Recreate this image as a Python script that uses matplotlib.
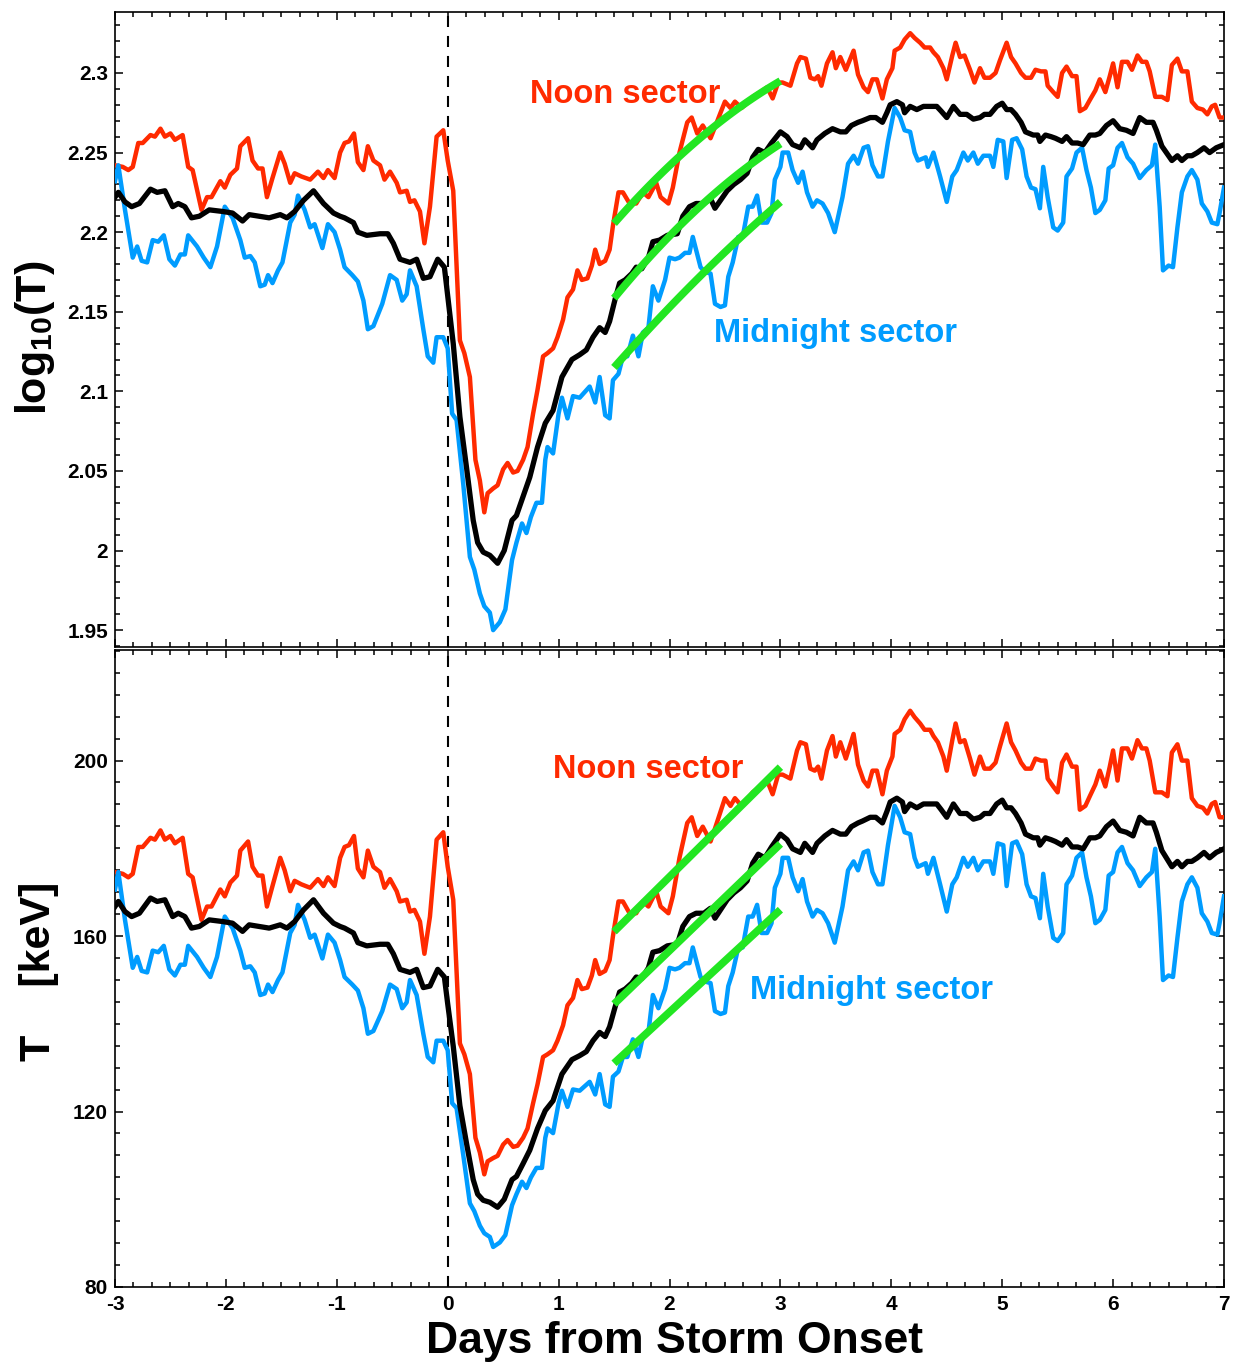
import matplotlib
matplotlib.use('Agg')
import matplotlib.pyplot as plt
from matplotlib.ticker import MultipleLocator, FuncFormatter
import numpy as np

# Superposed-epoch temperature, log10(T [keV]) vs days from storm onset
noon_days = [-3.00, -2.93, -2.88, -2.84, -2.79, -2.75, -2.68, -2.64, -2.59, -2.55,
             -2.50, -2.46, -2.39, -2.34, -2.30, -2.22, -2.17, -2.13, -2.05, -2.01,
             -1.96, -1.90, -1.87, -1.80, -1.76, -1.71, -1.67, -1.63, -1.58, -1.51,
             -1.47, -1.42, -1.38, -1.32, -1.24, -1.17, -1.12, -1.08, -1.02, -0.97,
             -0.93, -0.89, -0.845, -0.81, -0.76, -0.72, -0.67, -0.61, -0.57, -0.52,
             -0.46, -0.43, -0.37, -0.34, -0.30, -0.25, -0.21, -0.16, -0.10, -0.04,
             0.00, 0.05, 0.11, 0.15, 0.20, 0.25, 0.29, 0.33, 0.36, 0.41,
             0.45, 0.50, 0.54, 0.59, 0.63, 0.68, 0.72, 0.77, 0.81, 0.86,
             0.90, 0.95, 0.99, 1.04, 1.08, 1.13, 1.17, 1.21, 1.26, 1.30,
             1.33, 1.37, 1.42, 1.46, 1.49, 1.54, 1.58, 1.64, 1.70, 1.76,
             1.81, 1.88, 1.92, 1.99, 2.03, 2.09, 2.16, 2.20, 2.25, 2.30,
             2.37, 2.41, 2.46, 2.50, 2.55, 2.59, 2.65, 2.70, 2.75, 2.82,
             2.88, 2.93, 2.98, 3.02, 3.09, 3.15, 3.18, 3.23, 3.27, 3.31,
             3.34, 3.37, 3.42, 3.47, 3.50, 3.54, 3.59, 3.66, 3.70, 3.75,
             3.79, 3.83, 3.87, 3.92, 3.96, 4.01, 4.03, 4.08, 4.12, 4.17,
             4.21, 4.26, 4.30, 4.35, 4.38, 4.42, 4.47, 4.50, 4.55, 4.58,
             4.62, 4.66, 4.71, 4.75, 4.80, 4.84, 4.89, 4.94, 4.98, 5.04,
             5.08, 5.12, 5.17, 5.21, 5.26, 5.30, 5.35, 5.39, 5.41, 5.46,
             5.50, 5.54, 5.58, 5.63, 5.67, 5.70, 5.75, 5.79, 5.84, 5.88,
             5.93, 5.97, 6.00, 6.04, 6.08, 6.13, 6.17, 6.22, 6.26, 6.30,
             6.33, 6.38, 6.44, 6.49, 6.53, 6.58, 6.62, 6.67, 6.71, 6.76,
             6.81, 6.85, 6.89, 6.92, 6.96, 7.00]
noon_logT = [2.242, 2.241, 2.239, 2.241, 2.256, 2.256, 2.261, 2.260, 2.265, 2.260,
             2.262, 2.258, 2.261, 2.241, 2.239, 2.214, 2.222, 2.222, 2.232, 2.228,
             2.236, 2.240, 2.254, 2.259, 2.245, 2.240, 2.240, 2.222, 2.234, 2.250,
             2.243, 2.231, 2.237, 2.235, 2.233, 2.238, 2.234, 2.239, 2.234, 2.250,
             2.256, 2.257, 2.262, 2.244, 2.239, 2.254, 2.245, 2.242, 2.233, 2.238,
             2.231, 2.225, 2.226, 2.219, 2.220, 2.213, 2.193, 2.216, 2.260, 2.264,
             2.245, 2.226, 2.132, 2.124, 2.109, 2.057, 2.044, 2.024, 2.036, 2.039,
             2.041, 2.051, 2.055, 2.049, 2.050, 2.057, 2.065, 2.086, 2.101, 2.122,
             2.124, 2.127, 2.134, 2.145, 2.159, 2.164, 2.176, 2.170, 2.171, 2.179,
             2.189, 2.180, 2.182, 2.189, 2.204, 2.225, 2.225, 2.218, 2.218, 2.225,
             2.222, 2.231, 2.222, 2.218, 2.228, 2.250, 2.269, 2.272, 2.262, 2.267,
             2.259, 2.266, 2.275, 2.282, 2.278, 2.282, 2.278, 2.281, 2.285, 2.288,
             2.291, 2.284, 2.294, 2.294, 2.292, 2.306, 2.310, 2.309, 2.297, 2.296,
             2.298, 2.292, 2.306, 2.313, 2.303, 2.310, 2.302, 2.314, 2.299, 2.291,
             2.288, 2.296, 2.296, 2.284, 2.296, 2.303, 2.314, 2.316, 2.321, 2.325,
             2.322, 2.319, 2.316, 2.316, 2.313, 2.310, 2.303, 2.296, 2.311, 2.319,
             2.310, 2.311, 2.302, 2.294, 2.303, 2.297, 2.297, 2.300, 2.308, 2.319,
             2.310, 2.306, 2.300, 2.297, 2.297, 2.302, 2.301, 2.301, 2.292, 2.288,
             2.285, 2.300, 2.304, 2.298, 2.298, 2.276, 2.278, 2.283, 2.289, 2.296,
             2.288, 2.298, 2.306, 2.291, 2.307, 2.307, 2.302, 2.311, 2.307, 2.307,
             2.301, 2.285, 2.285, 2.283, 2.305, 2.309, 2.301, 2.301, 2.282, 2.278,
             2.277, 2.274, 2.279, 2.280, 2.272, 2.272]

all_days = [-3.00, -2.97, -2.91, -2.85, -2.78, -2.68, -2.62, -2.55, -2.48, -2.43,
            -2.37, -2.31, -2.24, -2.15, -2.03, -1.94, -1.85, -1.79, -1.70, -1.61,
            -1.51, -1.45, -1.38, -1.30, -1.21, -1.12, -1.03, -0.97, -0.93, -0.85,
            -0.81, -0.73, -0.61, -0.54, -0.49, -0.43, -0.34, -0.28, -0.22, -0.16,
            -0.09, -0.03, 0.00, 0.05, 0.11, 0.17, 0.23, 0.27, 0.32, 0.38,
            0.45, 0.51, 0.58, 0.62, 0.68, 0.74, 0.81, 0.88, 0.95, 1.03,
            1.12, 1.19, 1.25, 1.31, 1.37, 1.42, 1.46, 1.51, 1.55, 1.60,
            1.66, 1.70, 1.75, 1.81, 1.85, 1.91, 1.98, 2.07, 2.12, 2.18,
            2.24, 2.31, 2.37, 2.41, 2.46, 2.52, 2.58, 2.64, 2.70, 2.75,
            2.80, 2.86, 2.92, 3.00, 3.06, 3.11, 3.18, 3.22, 3.29, 3.33,
            3.40, 3.47, 3.54, 3.59, 3.64, 3.70, 3.74, 3.81, 3.86, 3.92,
            3.96, 3.99, 4.05, 4.10, 4.12, 4.17, 4.23, 4.29, 4.35, 4.41,
            4.45, 4.50, 4.56, 4.62, 4.68, 4.74, 4.80, 4.84, 4.89, 4.95,
            5.00, 5.04, 5.08, 5.12, 5.17, 5.21, 5.28, 5.32, 5.34, 5.39,
            5.44, 5.48, 5.54, 5.58, 5.63, 5.68, 5.73, 5.79, 5.84, 5.88,
            5.94, 6.00, 6.06, 6.12, 6.18, 6.24, 6.30, 6.36, 6.39, 6.44,
            6.49, 6.53, 6.58, 6.62, 6.67, 6.71, 6.76, 6.82, 6.87, 6.93,
            7.00]
all_logT = [2.222, 2.225, 2.219, 2.216, 2.218, 2.227, 2.225, 2.226, 2.216, 2.218,
            2.216, 2.209, 2.210, 2.214, 2.213, 2.212, 2.207, 2.211, 2.210, 2.209,
            2.211, 2.209, 2.213, 2.220, 2.226, 2.218, 2.212, 2.210, 2.209, 2.206,
            2.200, 2.198, 2.199, 2.199, 2.193, 2.183, 2.181, 2.183, 2.171, 2.172,
            2.183, 2.178, 2.160, 2.130, 2.084, 2.052, 2.019, 2.005, 1.999, 1.997,
            1.992, 2.000, 2.019, 2.022, 2.034, 2.046, 2.065, 2.080, 2.088, 2.109,
            2.120, 2.123, 2.126, 2.134, 2.140, 2.137, 2.144, 2.158, 2.168, 2.170,
            2.174, 2.178, 2.177, 2.184, 2.194, 2.195, 2.198, 2.199, 2.210, 2.216,
            2.218, 2.218, 2.221, 2.215, 2.220, 2.226, 2.230, 2.233, 2.237, 2.247,
            2.252, 2.250, 2.256, 2.263, 2.260, 2.255, 2.253, 2.258, 2.253, 2.258,
            2.262, 2.265, 2.263, 2.263, 2.267, 2.269, 2.270, 2.272, 2.272, 2.269,
            2.275, 2.280, 2.282, 2.280, 2.275, 2.279, 2.277, 2.279, 2.279, 2.279,
            2.276, 2.272, 2.279, 2.274, 2.274, 2.271, 2.272, 2.274, 2.274, 2.279,
            2.281, 2.277, 2.277, 2.274, 2.269, 2.263, 2.261, 2.261, 2.257, 2.261,
            2.260, 2.259, 2.257, 2.260, 2.256, 2.256, 2.255, 2.261, 2.261, 2.262,
            2.267, 2.270, 2.265, 2.264, 2.262, 2.272, 2.269, 2.269, 2.264, 2.254,
            2.249, 2.245, 2.248, 2.245, 2.248, 2.248, 2.250, 2.253, 2.250, 2.253,
            2.255]

midnight_days = [-3.00, -2.97, -2.91, -2.84, -2.80, -2.76, -2.71, -2.66, -2.61, -2.56,
                 -2.51, -2.46, -2.41, -2.37, -2.34, -2.26, -2.20, -2.14, -2.08, -2.01,
                 -1.94, -1.87, -1.83, -1.78, -1.74, -1.69, -1.65, -1.62, -1.58, -1.53,
                 -1.49, -1.42, -1.38, -1.35, -1.29, -1.24, -1.20, -1.13, -1.08, -1.02,
                 -0.97, -0.93, -0.86, -0.81, -0.76, -0.72, -0.67, -0.59, -0.52, -0.46,
                 -0.41, -0.37, -0.34, -0.28, -0.22, -0.18, -0.13, -0.10, -0.04, 0.00,
                 0.04, 0.08, 0.14, 0.20, 0.24, 0.29, 0.33, 0.38, 0.41, 0.47,
                 0.52, 0.58, 0.62, 0.67, 0.71, 0.75, 0.80, 0.85, 0.88, 0.90,
                 0.95, 1.00, 1.03, 1.08, 1.13, 1.19, 1.28, 1.33, 1.37, 1.42,
                 1.46, 1.49, 1.54, 1.58, 1.62, 1.67, 1.72, 1.76, 1.81, 1.85,
                 1.90, 1.96, 2.00, 2.05, 2.09, 2.14, 2.18, 2.21, 2.28, 2.32,
                 2.37, 2.41, 2.46, 2.50, 2.53, 2.57, 2.62, 2.66, 2.71, 2.75,
                 2.79, 2.83, 2.88, 2.92, 2.95, 3.00, 3.02, 3.07, 3.11, 3.16,
                 3.20, 3.24, 3.29, 3.33, 3.38, 3.43, 3.49, 3.56, 3.61, 3.66,
                 3.70, 3.75, 3.79, 3.83, 3.88, 3.92, 3.97, 4.03, 4.08, 4.12,
                 4.17, 4.21, 4.24, 4.31, 4.33, 4.38, 4.44, 4.50, 4.55, 4.59,
                 4.65, 4.69, 4.74, 4.78, 4.83, 4.89, 4.92, 4.96, 5.01, 5.04,
                 5.09, 5.13, 5.18, 5.22, 5.26, 5.30, 5.34, 5.37, 5.41, 5.46,
                 5.50, 5.55, 5.58, 5.63, 5.67, 5.72, 5.76, 5.80, 5.84, 5.88,
                 5.93, 5.96, 6.00, 6.04, 6.08, 6.13, 6.18, 6.24, 6.30, 6.35,
                 6.38, 6.42, 6.45, 6.50, 6.54, 6.58, 6.62, 6.67, 6.71, 6.76,
                 6.80, 6.85, 6.89, 6.94, 6.96, 7.00]
midnight_logT = [2.232, 2.242, 2.214, 2.184, 2.191, 2.182, 2.181, 2.195, 2.194, 2.198,
                 2.183, 2.179, 2.186, 2.186, 2.198, 2.191, 2.184, 2.178, 2.191, 2.216,
                 2.209, 2.195, 2.184, 2.185, 2.181, 2.166, 2.167, 2.173, 2.168, 2.176,
                 2.181, 2.206, 2.211, 2.223, 2.214, 2.203, 2.205, 2.190, 2.205, 2.200,
                 2.189, 2.178, 2.173, 2.169, 2.157, 2.139, 2.141, 2.155, 2.173, 2.170,
                 2.157, 2.161, 2.176, 2.166, 2.139, 2.122, 2.118, 2.134, 2.134, 2.127,
                 2.086, 2.082, 2.042, 1.996, 1.988, 1.973, 1.965, 1.961, 1.950, 1.955,
                 1.963, 1.994, 2.005, 2.017, 2.011, 2.021, 2.030, 2.030, 2.057, 2.065,
                 2.061, 2.086, 2.096, 2.083, 2.097, 2.096, 2.103, 2.093, 2.109, 2.085,
                 2.083, 2.107, 2.111, 2.122, 2.122, 2.135, 2.122, 2.137, 2.140, 2.166,
                 2.157, 2.170, 2.184, 2.183, 2.184, 2.187, 2.187, 2.197, 2.178, 2.175,
                 2.174, 2.155, 2.153, 2.154, 2.172, 2.181, 2.197, 2.197, 2.216, 2.216,
                 2.223, 2.206, 2.206, 2.212, 2.233, 2.241, 2.250, 2.250, 2.239, 2.231,
                 2.238, 2.225, 2.216, 2.220, 2.218, 2.212, 2.200, 2.222, 2.243, 2.248,
                 2.243, 2.253, 2.254, 2.242, 2.235, 2.235, 2.257, 2.278, 2.272, 2.264,
                 2.263, 2.250, 2.245, 2.247, 2.241, 2.250, 2.235, 2.219, 2.235, 2.239,
                 2.250, 2.245, 2.250, 2.243, 2.248, 2.248, 2.241, 2.258, 2.257, 2.234,
                 2.258, 2.259, 2.252, 2.235, 2.228, 2.227, 2.215, 2.241, 2.222, 2.203,
                 2.201, 2.206, 2.235, 2.240, 2.250, 2.253, 2.239, 2.228, 2.212, 2.214,
                 2.220, 2.240, 2.242, 2.253, 2.256, 2.247, 2.243, 2.234, 2.239, 2.242,
                 2.255, 2.216, 2.176, 2.179, 2.178, 2.203, 2.225, 2.235, 2.239, 2.233,
                 2.218, 2.213, 2.206, 2.205, 2.212, 2.228]

# Recovery fits, day 1.5 to day 3: straight lines in keV ...
fit_days = [1.5, 3.0]
fit_noon_keV = [161.0, 198.5]
fit_all_keV = [144.5, 181.0]
fit_midnight_keV = [131.0, 166.0]
# ... and the log-panel fits, given at start, middle and end
fit_log_days = [1.5, 2.25, 3.0]
fit_noon_log = [2.2055, 2.2575, 2.2950]
fit_all_log = [2.1585, 2.2145, 2.2555]
fit_midnight_log = [2.1150, 2.1705, 2.2190]

RED = '#ff2a00'
BLUE = '#009cff'
GREEN = '#22e622'

plt.rcParams['font.family'] = ['Liberation Sans', 'DejaVu Sans']
plt.rcParams['font.weight'] = 'bold'
plt.rcParams['mathtext.default'] = 'regular'

W, H = 1235, 1363
fig = plt.figure(figsize=(W / 100, H / 100), dpi=100)

def px_axes(left, top, right, bottom):
  return fig.add_axes([left / W, 1 - bottom / H, (right - left) / W, (bottom - top) / H])

ax_log = px_axes(115, 12, 1224, 647)
ax_kev = px_axes(115, 650, 1224, 1287)

def draw_panel(ax, to_units):
  ax.plot(noon_days, to_units(np.array(noon_logT)), color=RED, lw=3.2, zorder=3)
  ax.plot(midnight_days, to_units(np.array(midnight_logT)), color=BLUE, lw=3.2, zorder=3)
  ax.plot(all_days, to_units(np.array(all_logT)), color='black', lw=3.8, zorder=4)
  ax.axvline(0, color='black', lw=1.5, ls=(0, (5.3, 4.3)), zorder=2)
  ax.set_xlim(-3, 7)
  ax.xaxis.set_major_locator(MultipleLocator(1))
  ax.xaxis.set_minor_locator(MultipleLocator(1 / 6))
  ax.tick_params(which='both', direction='in', top=True, right=True, width=1.1,
                 labelsize=15, pad=6)
  ax.tick_params(which='major', length=6)
  ax.tick_params(which='minor', length=3.5)
  for s in ax.spines.values():
    s.set_linewidth(1.2)

draw_panel(ax_log, lambda v: v)
draw_panel(ax_kev, lambda v: 10 ** v)

# Green fit curves on top of the data
t = np.linspace(fit_days[0], fit_days[1], 60)
for fit in (fit_noon_log, fit_all_log, fit_midnight_log):
  coef = np.polyfit(fit_log_days, fit, 2)
  ax_log.plot(t, np.polyval(coef, t), color=GREEN, lw=5.5, solid_capstyle='butt', zorder=5)
for fit in (fit_noon_keV, fit_all_keV, fit_midnight_keV):
  ax_kev.plot(fit_days, fit, color=GREEN, lw=5.5, solid_capstyle='butt', zorder=5)

ax_log.set_ylim(1.9394, 2.3383)
ax_log.yaxis.set_major_locator(MultipleLocator(0.05))
ax_log.yaxis.set_minor_locator(MultipleLocator(0.01))
ax_log.yaxis.set_major_formatter(FuncFormatter(lambda v, p: '%g' % round(v, 3)))
ax_log.tick_params(axis='x', labelbottom=False)
ax_log.tick_params(axis='y', pad=5)

ax_kev.set_ylim(80, 225.2)
ax_kev.yaxis.set_major_locator(MultipleLocator(40))
ax_kev.yaxis.set_minor_locator(MultipleLocator(5))
ax_kev.tick_params(axis='y', pad=5)
ax_kev.xaxis.set_major_formatter(FuncFormatter(lambda v, p: '%d' % round(v)))

# Sector labels
txt = dict(fontsize=23.5, fontweight='bold', ha='left', va='baseline')
ax_log.text(0.742, 2.2812, 'Noon sector', color=RED, **txt)
ax_log.text(2.401, 2.131, 'Midnight sector', color=BLUE, **txt)
ax_kev.text(0.949, 196.1, 'Noon sector', color=RED, **txt)
ax_kev.text(2.726, 145.7, 'Midnight sector', color=BLUE, **txt)

# Axis titles
fig.text(35 / W, 1 - 338 / H, r'log$_{10}$(T)', rotation=90, ha='center', va='center',
         fontsize=31, fontweight='bold')
fig.text(39 / W, 1 - 971 / H, 'T    [keV]', rotation=90, ha='center', va='center',
         fontsize=31, fontweight='bold')
fig.text(674 / W, 1 - 1353 / H, 'Days from Storm Onset', ha='center', va='baseline',
         fontsize=32, fontweight='bold')

fig.savefig('out.png', dpi=100)
